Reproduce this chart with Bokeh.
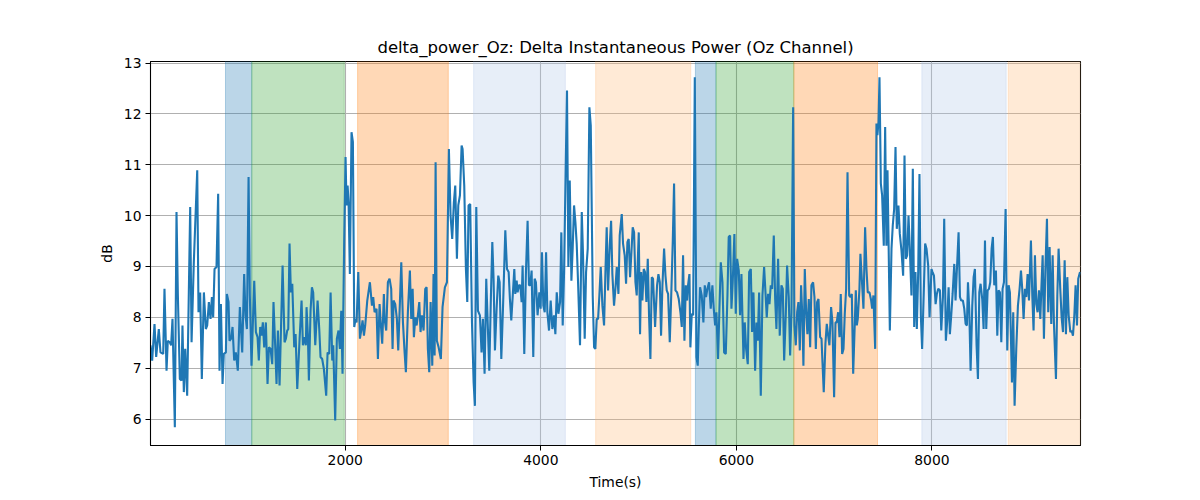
from bokeh.plotting import figure
from bokeh.models import Range1d, FixedTicker, ColumnDataSource
from bokeh.embed import file_html
from bokeh.resources import INLINE

# ---- data ----
time_s = [
    8, 25, 49, 66, 93, 110, 138, 151, 172, 185, 206, 219, 233, 257, 274, 288, 308, 325, 335, 349,
    363, 383, 414, 428, 451, 486, 499, 516, 533, 554, 574, 588, 605, 622, 636, 649, 663, 683, 700, 714,
    728, 745, 758, 779, 789,
    806, 816, 833, 847, 864, 881, 901, 922, 946, 966, 980, 994, 1011, 1024, 1041, 1069, 1086, 1103, 1116, 1130,
    1144, 1157, 1171, 1188, 1205, 1219, 1236, 1253, 1266, 1283, 1297, 1311, 1328, 1359, 1379, 1393, 1406, 1417, 1430, 1444,
    1458, 1478, 1492, 1509, 1533, 1553, 1567, 1584, 1597,
    1604, 1618, 1628, 1645, 1659, 1672, 1693, 1717, 1734, 1747, 1764, 1781, 1805, 1819, 1836, 1850, 1867, 1877, 1897, 1914,
    1931, 1945, 1959, 1972, 1989, 2003, 2013, 2024, 2034, 2047, 2064, 2078, 2092, 2105, 2116, 2133, 2150, 2163, 2177, 2191,
    2204, 2225, 2252, 2273, 2286, 2300, 2320, 2334, 2351, 2361, 2378, 2395,
    2402, 2419, 2436, 2453, 2470, 2484, 2494, 2511, 2528, 2542, 2559, 2573, 2590, 2607, 2620, 2641, 2661, 2675, 2689, 2702,
    2716, 2730, 2743, 2757, 2770, 2784, 2801, 2818, 2832, 2845, 2859, 2873, 2890, 2903, 2914, 2924, 2937, 2955, 2978, 2995,
    3019, 3040, 3060, 3077, 3094, 3111, 3125, 3142, 3156, 3173, 3190,
    3200, 3217, 3234, 3248, 3261, 3278, 3296, 3313, 3326, 3340, 3357, 3377, 3394, 3408, 3425, 3442, 3459, 3473, 3490, 3504,
    3517, 3531, 3548, 3565, 3579, 3596, 3613, 3637, 3654, 3671, 3684, 3698, 3715, 3729, 3739, 3753, 3763, 3776, 3790, 3804,
    3814, 3831, 3848, 3865, 3879, 3892, 3906, 3923, 3937, 3950, 3967, 3985, 3998, 4012,
    4026, 4040, 4054, 4067, 4084, 4101, 4118, 4135, 4149, 4163, 4180, 4197, 4210, 4224, 4238, 4255, 4268, 4282, 4296, 4313,
    4326, 4340, 4354, 4367, 4381, 4401, 4419, 4432, 4449, 4463, 4480, 4497, 4511, 4521, 4531, 4545, 4558, 4572, 4586, 4599,
    4613, 4630, 4647, 4661, 4674, 4688, 4705, 4719, 4732, 4749, 4763, 4777, 4794, 4807,
    4828, 4841, 4858, 4872, 4886, 4899, 4913, 4927, 4940, 4954, 4968, 4981, 4991, 5002, 5015, 5026, 5039, 5053, 5066, 5080,
    5094, 5107, 5121, 5135, 5148, 5169, 5189, 5203, 5217, 5230, 5244, 5261, 5275, 5288, 5302, 5319, 5336, 5350, 5363, 5377,
    5394, 5411, 5428, 5442, 5455, 5469, 5483, 5496, 5506, 5520, 5530, 5544, 5558, 5575, 5592, 5605,
    5615, 5629, 5646, 5663, 5677, 5690, 5704, 5721, 5738, 5755, 5769, 5783, 5796, 5813, 5827, 5841, 5858, 5875, 5892, 5909,
    5922, 5936, 5950, 5963, 5980, 5994, 6008, 6025, 6038, 6052, 6073, 6086, 6100, 6117, 6131, 6148, 6161, 6175, 6192, 6206,
    6219, 6233, 6250, 6267, 6284, 6298, 6311, 6325, 6339, 6352, 6366, 6383, 6397, 6410,
    6427, 6444, 6461, 6475, 6489, 6506, 6519, 6536, 6550, 6564, 6581, 6594, 6608, 6622, 6635, 6649, 6662, 6676, 6686, 6700,
    6714, 6727, 6741, 6755, 6768, 6785, 6799, 6813, 6826, 6840, 6857, 6871, 6881, 6894, 6911, 6925, 6939, 6952, 6969, 6983,
    7000, 7014, 7027, 7041, 7055, 7068, 7082, 7096, 7109, 7123, 7137, 7154, 7167, 7181, 7195,
    7222, 7232, 7242, 7259, 7269, 7287, 7300, 7317, 7331, 7344, 7362, 7379, 7389, 7402, 7420, 7433, 7443, 7454, 7464, 7478,
    7491, 7508, 7522, 7535, 7546, 7556, 7570, 7587, 7600, 7614, 7628, 7641, 7658, 7672, 7689, 7706, 7720, 7733, 7747, 7761,
    7778, 7791, 7805, 7819, 7832, 7846, 7860, 7873, 7887, 7900, 7918, 7931, 7945, 7962, 7976, 7996,
    8007, 8021, 8038, 8051, 8065, 8082, 8096, 8113, 8126, 8143, 8157, 8171, 8184, 8198, 8212, 8229, 8242, 8256, 8273, 8287,
    8300, 8317, 8331, 8345, 8358, 8369, 8382, 8396, 8413, 8427, 8440, 8457, 8471, 8485, 8498, 8515, 8529, 8543, 8556, 8570,
    8584, 8597, 8611, 8624, 8638, 8655, 8669, 8682, 8696, 8710, 8723, 8737, 8754, 8771, 8785, 8798,
    8819, 8832, 8846, 8863, 8880, 8897, 8911, 8924, 8938, 8952, 8965, 8979, 8993, 9013, 9027, 9040, 9054, 9068, 9081, 9095,
    9109, 9119, 9133, 9146, 9160, 9177, 9190, 9204, 9221, 9235, 9248, 9269, 9283, 9296, 9313, 9327, 9341, 9358, 9371, 9385,
    9399, 9416, 9429, 9443, 9457, 9470, 9484, 9497, 9515,
]

delta_power_db = [
    7.45, 7.15, 7.87, 7.22, 7.77, 7.31, 7.28, 8.56, 6.95, 7.54, 7.51, 7.45, 7.97, 5.84, 10.07, 8.43, 6.79, 6.76, 7.84, 6.53,
    7.38, 6.46, 10.17, 7.51, 9.08, 10.89, 8.10, 8.49, 6.79, 8.49, 7.77, 7.84, 8.30, 7.97, 8.40, 8.00, 8.95, 8.99, 10.43, 6.95,
    8.26, 6.69, 7.28, 7.31, 8.46,
    8.30, 7.54, 7.58, 7.81, 7.15, 7.31, 6.95, 8.20, 7.31, 8.85, 8.04, 7.77, 10.76, 8.43, 7.05, 8.72, 7.71, 7.61, 7.15, 7.81,
    7.64, 7.90, 7.41, 7.90, 6.69, 7.41, 7.38, 7.08, 8.30, 7.45, 6.69, 7.74, 6.66, 9.02, 7.51, 7.58, 7.74, 7.77, 9.45, 8.49,
    8.66, 7.41, 7.67, 6.59, 7.58, 8.33, 7.45, 7.61, 7.45,
    8.20, 7.64, 6.76, 8.13, 8.59, 8.49, 7.45, 8.33, 7.77, 7.22, 7.18, 6.99, 6.46, 7.31, 7.28, 8.49, 7.15, 7.45, 5.97, 7.58,
    7.74, 7.38, 8.13, 6.89, 9.48, 11.15, 10.20, 10.59, 10.26, 8.85, 11.64, 11.45, 7.81, 7.97, 7.90, 8.89, 7.58, 7.74, 7.94, 7.64,
    7.84, 8.33, 8.69, 8.23, 8.40, 8.10, 8.17, 7.18, 8.26, 7.94, 7.48, 8.46,
    7.97, 7.74, 8.69, 8.76, 8.56, 7.38, 8.33, 8.26, 7.97, 7.35, 8.30, 9.08, 7.90, 7.31, 6.92, 8.13, 8.92, 7.97, 8.56, 7.61,
    8.00, 7.84, 8.04, 8.30, 7.71, 8.04, 7.74, 8.56, 8.59, 7.38, 6.92, 8.30, 7.05, 8.85, 7.25, 11.05, 7.54, 7.41, 7.18, 8.20,
    8.59, 8.69, 11.31, 10.00, 9.54, 10.26, 10.59, 9.15, 10.20, 10.40, 11.38,
    11.31, 10.59, 8.95, 8.30, 10.20, 10.23, 7.90, 6.72, 6.26, 10.17, 8.13, 8.04, 7.31, 7.97, 6.89, 8.76, 7.77, 6.95, 8.43, 9.48,
    8.76, 7.35, 8.17, 8.82, 8.69, 7.18, 8.17, 9.71, 8.95, 8.89, 8.36, 7.94, 8.49, 8.95, 8.46, 8.72, 8.49, 8.63, 8.63, 8.30,
    9.02, 7.28, 8.89, 9.90, 8.63, 8.63, 8.92, 7.22, 8.76, 8.69, 8.04, 8.49, 8.17, 9.28,
    8.23, 8.10, 9.28, 8.10, 7.74, 8.33, 7.77, 8.04, 7.67, 8.49, 8.07, 8.30, 9.67, 7.84, 8.89, 10.99, 12.46, 8.99, 10.69, 8.72,
    9.35, 10.20, 9.87, 9.45, 8.69, 7.45, 10.07, 9.22, 7.58, 8.89, 9.35, 12.13, 11.77, 10.13, 8.43, 7.41, 7.38, 7.97, 7.97, 8.43,
    8.99, 8.23, 7.84, 8.89, 9.77, 8.53, 9.41, 9.90, 8.85, 8.23, 8.56, 8.99, 8.46, 9.61,
    10.03, 9.45, 9.22, 8.66, 9.48, 9.54, 8.79, 9.28, 9.77, 9.67, 8.69, 8.43, 9.05, 9.67, 7.67, 8.89, 8.33, 8.95, 8.89, 8.30,
    9.15, 8.04, 7.18, 8.79, 8.76, 7.81, 8.63, 8.85, 8.69, 7.64, 8.63, 9.35, 8.82, 8.53, 8.46, 7.51, 8.56, 9.51, 10.63, 8.53,
    8.49, 8.36, 8.10, 7.81, 9.22, 7.54, 8.63, 8.33, 8.63, 8.85, 7.41, 8.07, 8.04, 12.72, 7.22, 7.05,
    7.77, 8.59, 8.43, 7.90, 8.63, 8.40, 8.56, 8.69, 8.17, 8.63, 8.17, 7.84, 8.10, 7.18, 8.17, 9.08, 8.69, 7.31, 7.28, 8.43,
    9.58, 9.61, 8.17, 8.69, 9.64, 8.07, 9.15, 8.92, 8.04, 8.85, 7.18, 7.90, 7.38, 7.08, 8.89, 8.95, 7.71, 8.49, 6.95, 7.90,
    7.54, 8.49, 6.46, 8.43, 8.99, 8.49, 8.00, 8.46, 8.26, 8.63, 8.56, 9.61, 8.36, 7.77,
    9.15, 7.64, 8.63, 8.56, 7.15, 8.07, 9.02, 8.40, 7.25, 8.10, 12.13, 7.84, 7.45, 8.10, 8.30, 7.35, 8.63, 7.97, 7.05, 8.95,
    8.10, 7.67, 8.36, 7.41, 8.63, 8.69, 8.40, 7.38, 8.30, 8.36, 7.61, 7.58, 7.12, 6.53, 7.48, 7.87, 7.64, 7.45, 8.20, 7.90,
    6.43, 7.90, 7.90, 8.10, 7.61, 8.46, 7.28, 7.38, 8.07, 8.56, 10.85, 8.43, 8.40, 8.46, 6.89,
    8.53, 7.84, 7.97, 8.56, 9.25, 8.63, 8.17, 9.77, 8.95, 8.49, 8.49, 8.33, 8.17, 8.43, 7.38, 11.81, 11.58, 11.84, 12.72, 10.63,
    10.40, 9.41, 11.74, 9.41, 10.89, 9.61, 7.74, 9.35, 9.81, 10.13, 11.35, 9.74, 10.20, 9.64, 9.31, 8.82, 11.18, 9.15, 9.22, 10.00,
    9.15, 8.43, 10.92, 7.81, 8.89, 7.77, 8.89, 10.82, 8.04, 7.38, 8.56, 9.45, 9.35, 9.02, 8.00, 8.95,
    8.89, 8.82, 8.26, 8.46, 8.56, 8.53, 7.74, 8.40, 9.94, 7.54, 7.94, 8.59, 7.67, 8.04, 8.46, 9.05, 8.33, 8.95, 9.67, 8.40,
    8.33, 8.33, 8.17, 7.87, 7.84, 8.69, 8.17, 6.95, 8.23, 8.79, 8.95, 7.45, 6.79, 8.49, 8.66, 8.36, 7.77, 9.51, 7.77, 8.53,
    8.56, 8.69, 9.35, 9.58, 8.63, 8.92, 7.64, 8.53, 8.49, 7.51, 8.56, 8.69, 10.13, 7.35, 8.63, 8.49,
    6.72, 8.10, 6.26, 7.38, 8.23, 8.56, 8.92, 8.56, 7.97, 8.56, 8.40, 8.85, 8.33, 9.51, 8.43, 7.74, 9.22, 8.26, 8.10, 8.53,
    7.97, 8.53, 9.22, 7.58, 8.89, 9.94, 8.10, 9.38, 7.87, 9.22, 7.90, 6.79, 8.43, 9.35, 8.56, 8.00, 7.71, 9.12, 7.67, 8.79,
    8.04, 7.71, 7.74, 7.64, 8.04, 8.63, 7.84, 8.76, 8.89,
]

# shaded intervals (start, end in seconds)
span_start = [775, 1044, 2126, 3313, 4561, 5581, 5792, 6588, 7897, 8781]
span_end = [1044, 1990, 3054, 4251, 5534, 5792, 6588, 7444, 8760, 9530]
span_kind = ["a", "b", "c", "d", "e", "a", "b", "c", "d", "e"]

x_ticks = [2000, 4000, 6000, 8000]
y_ticks = [6, 7, 8, 9, 10, 11, 12, 13]

assert len(time_s) == len(delta_power_db), (len(time_s), len(delta_power_db))

# ---- styling ----
kind_color = {"a": "#1f77b4", "b": "#2ca02c", "c": "#ff7f0e", "d": "#aec7e8", "e": "#ffbb78"}
FONT = "DejaVu Sans"

p = figure(
    width=1200, height=500,
    output_backend="svg", toolbar_location=None,
    x_range=Range1d(8, 9520), y_range=Range1d(5.48, 13.03),
    title="delta_power_Oz: Delta Instantaneous Power (Oz Channel)",
    min_border_left=150, min_border_right=120, min_border_top=61, min_border_bottom=55,
    background_fill_color="white", border_fill_color="white",
)

span_src = ColumnDataSource(dict(
    left=span_start, right=span_end,
    color=[kind_color[k] for k in span_kind],
))
p.quad(left="left", right="right", bottom=5.0, top=14.0, source=span_src,
       fill_color="color", fill_alpha=0.3, line_color="color", line_alpha=0.3, line_width=1)

p.line(time_s, delta_power_db, line_color="#1f77b4", line_width=2.1)

p.title.align = "center"
p.title.text_font = FONT
p.title.text_font_size = "16.5px"
p.title.text_font_style = "normal"
p.title.text_color = "black"

p.xaxis.ticker = FixedTicker(ticks=x_ticks)
p.yaxis.ticker = FixedTicker(ticks=y_ticks)
p.xaxis.axis_label = "Time(s)"
p.yaxis.axis_label = "dB"

for ax in (p.xaxis, p.yaxis):
    ax.axis_label_text_font = FONT
    ax.axis_label_text_font_size = "13.9px"
    ax.axis_label_text_font_style = "normal"
    ax.axis_label_text_color = "black"
    ax.major_label_text_font = FONT
    ax.major_label_text_font_size = "13.9px"
    ax.major_label_text_color = "black"
    ax.major_tick_out = 5
    ax.major_tick_in = 0
    ax.minor_tick_out = 0
    ax.minor_tick_in = 0
    ax.major_tick_line_color = "black"
    ax.axis_line_color = "black"
    ax.major_label_standoff = 4
    ax.axis_label_standoff = 6

p.xgrid.ticker = FixedTicker(ticks=x_ticks)
p.ygrid.ticker = FixedTicker(ticks=y_ticks)
p.grid.grid_line_color = "#b0b0b0"
p.grid.grid_line_width = 1.1

p.outline_line_color = "black"
p.outline_line_width = 1.1
p.outline_line_alpha = 1.0

open("out.html", "w").write(file_html(p, INLINE))
